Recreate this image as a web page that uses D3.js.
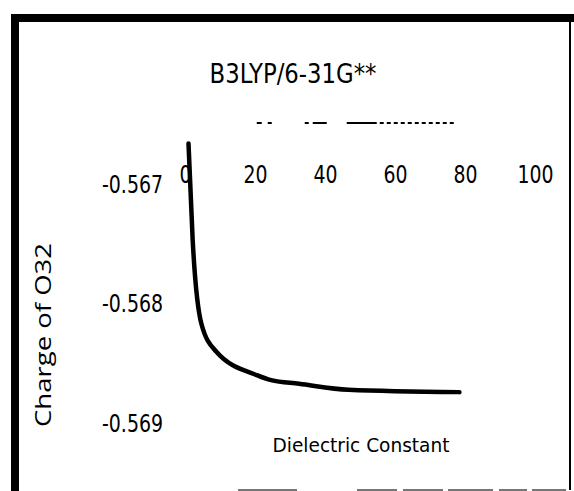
<!DOCTYPE html>
<html>
<head>
<meta charset="utf-8">
<script src="https://cdn.jsdelivr.net/npm/d3@7"></script>
<style>
  body { margin: 0; background: #fff; }
  svg { display: block; }
  text { fill: #000; }
</style>
</head>
<body>
<svg></svg>
<script>
/* global d3:true */

// data
const dielectric = [1, 2.2, 4.7, 8.9, 20.7, 24.6, 32.6, 46.7, 78.4]
const chargeO32 = [-0.56667, -0.56748, -0.56818, -0.56841, -0.56861, -0.56865, -0.56868, -0.56873, -0.56875]
const xTicks = [0, 20, 40, 60, 80, 100]
const yTicks = [-0.567, -0.568, -0.569]

const title = 'B3LYP/6-31G**'
const xTitle = 'Dielectric Constant'
const yTitle = 'Charge of O32'

const w = 574
const h = 491
const condensed = '"Liberation Sans Narrow", "DejaVu Sans Condensed", sans-serif'

const svg = d3.select('svg')
  .attr('width', w)
  .attr('height', h)

// frame of the scanned figure
svg.append('rect').attr('x', 11).attr('y', 14).attr('width', 8).attr('height', h - 14).attr('fill', '#000')
svg.append('rect').attr('x', 11).attr('y', 14).attr('width', w - 11).attr('height', 8).attr('fill', '#000')
svg.append('rect').attr('x', 569).attr('y', 14).attr('width', 2).attr('height', 476).attr('fill', '#000')
svg.append('line')
  .attr('x1', 238).attr('x2', 566).attr('y1', 490).attr('y2', 490)
  .attr('stroke', '#777').attr('stroke-width', 2)
  .attr('stroke-dasharray', '59 60 40 6 40 5 45 6 28 5 40')

// scales
const xScale = d3.scaleLinear()
  .domain([0, 100])
  .range([185, 535])

const yScale = d3.scaleLinear()
  .domain([-0.569, -0.567])
  .range([422, 183])

// chart title
svg.append('text')
  .attr('x', 293)
  .attr('y', 83)
  .attr('text-anchor', 'middle')
  .attr('textLength', 167)
  .attr('lengthAdjust', 'spacingAndGlyphs')
  .style('font-family', condensed)
  .style('font-size', '26px')
  .text(title)

// broken axis line left from the scan
svg.append('line')
  .attr('x1', xScale(20.5))
  .attr('x2', xScale(80.3))
  .attr('y1', 123)
  .attr('y2', 123)
  .attr('stroke', '#000')
  .attr('stroke-width', 2)
  .attr('stroke-dasharray', '5 6 4 33 4 4 14 20 30 3 4 3 4 3 4 3 4 3 4 3 4 3 4 3 4 3 4 3 4 3 4 16 3 100')

// x axis (labels near the top)
const xAxis = d3.axisBottom(xScale)
  .tickValues(xTicks)
  .tickSize(0)
  .tickFormat(d3.format('d'))

const gx = svg.append('g')
  .attr('transform', 'translate(0, 160)')
  .call(xAxis)
gx.select('.domain').remove()
gx.selectAll('text')
  .attr('y', 0)
  .attr('dy', '23px')
  .attr('textLength', d => String(d).length * 12)
  .attr('lengthAdjust', 'spacingAndGlyphs')
  .style('font-family', condensed)
  .style('font-size', '24px')
  .style('fill', '#000')

// y axis
const yAxis = d3.axisLeft(yScale)
  .tickValues(yTicks)
  .tickSize(0)
  .tickPadding(22)
  .tickFormat(d => d.toFixed(3))

const gy = svg.append('g')
  .attr('transform', `translate(${xScale(0)}, 0)`)
  .call(yAxis)
gy.select('.domain').remove()
gy.selectAll('text')
  .attr('dy', '9px')
  .attr('textLength', 61)
  .attr('lengthAdjust', 'spacingAndGlyphs')
  .style('font-family', condensed)
  .style('font-size', '24px')
  .style('fill', '#000')

// axis titles
svg.append('text')
  .attr('x', 361)
  .attr('y', 452)
  .attr('text-anchor', 'middle')
  .attr('textLength', 177)
  .attr('lengthAdjust', 'spacingAndGlyphs')
  .style('font-family', condensed)
  .style('font-size', '20px')
  .text(xTitle)

svg.append('text')
  .attr('transform', 'translate(51, 335) rotate(-90)')
  .attr('text-anchor', 'middle')
  .attr('textLength', 184)
  .attr('lengthAdjust', 'spacingAndGlyphs')
  .style('font-family', '"Open Sans", sans-serif')
  .style('font-size', '22px')
  .text(yTitle)

// the curve
const points = dielectric.map((d, i) => ({ x: d, y: chargeO32[i] }))

const line = d3.line()
  .x(d => xScale(d.x))
  .y(d => yScale(d.y))
  .curve(d3.curveMonotoneX)

svg.append('path')
  .datum(points)
  .attr('fill', 'none')
  .attr('stroke', '#000')
  .attr('stroke-width', 4.5)
  .attr('stroke-linecap', 'round')
  .attr('d', line)
</script>
</body>
</html>
